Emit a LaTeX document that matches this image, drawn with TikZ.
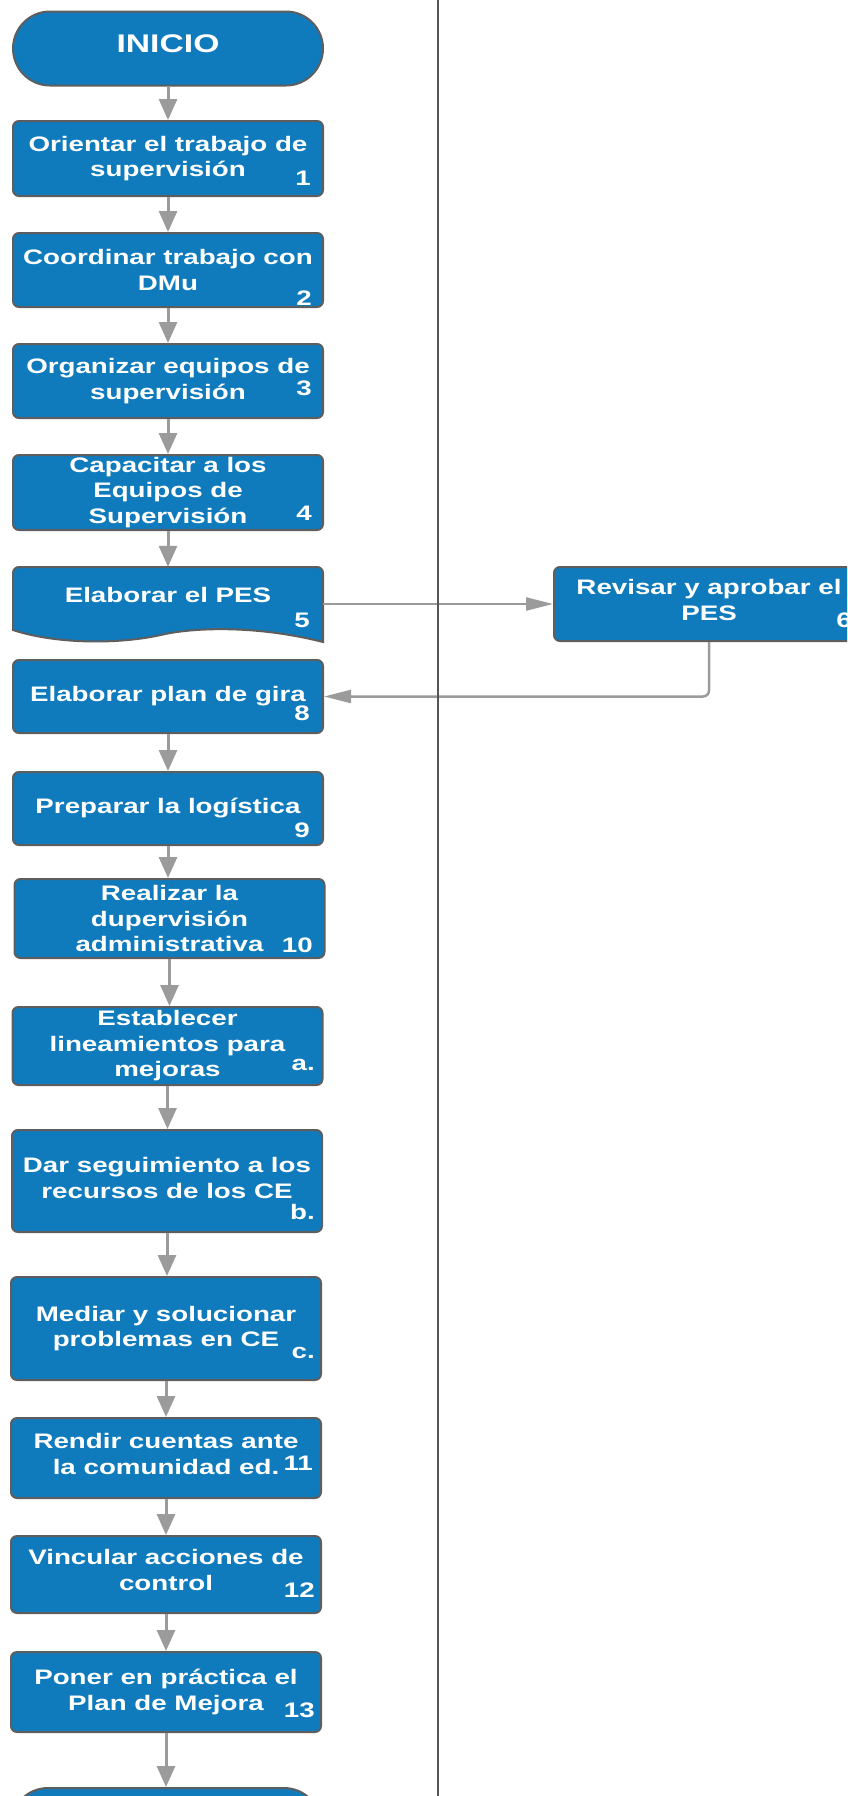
\documentclass[tikz,border=0pt]{standalone}
\usepackage{fontspec}
\newfontfamily\boxfont{Liberation Sans}[FakeStretch=1.32]
\usetikzlibrary{arrows.meta,shapes.misc}
\definecolor{boxblue}{HTML}{0F7BBD}
\definecolor{edgegray}{HTML}{5E5E5E}
\definecolor{arrowgray}{HTML}{9B9B9B}
\definecolor{lanegray}{HTML}{555555}
\newcommand{\padbot}[1]{\rule[-#1]{0pt}{#1}}
\tikzset{
  procbox/.style={draw=edgegray, line width=2pt, fill=boxblue, rounded corners=6pt,
    minimum width=310pt, inner sep=0pt, text=white, align=center,
    font=\boxfont\bfseries\fontsize{21pt}{25.5pt}\selectfont},
  docbox/.style={minimum width=310pt, inner sep=0pt, text=white, align=center,
    font=\boxfont\bfseries\fontsize{21pt}{25.5pt}\selectfont},
  docedge/.style={draw=edgegray, line width=2pt, fill=boxblue},
  termbox/.style={rounded rectangle, draw=edgegray, line width=2pt, fill=boxblue,
    minimum width=310pt, minimum height=74pt, inner sep=0pt, text=white,
    font=\boxfont\bfseries\fontsize{25.5pt}{30pt}\selectfont},
  numlbl/.style={anchor=base east, inner sep=0pt, text=white,
    font=\boxfont\bfseries\fontsize{21pt}{25pt}\selectfont},
  vflow/.style={draw=arrowgray, line width=3pt, -{Triangle[length=21pt,width=18pt]}},
  hflow/.style={draw=arrowgray, line width=2.5pt, -{Triangle[length=27pt,width=13pt]}},
  lane/.style={draw=lanegray, line width=2.5pt},
}
\begin{document}
\begin{tikzpicture}[x=1pt,y=-1pt]
\useasboundingbox (0,0) rectangle (847,1796);
\clip (0,0) rectangle (847,1796);

% terminals
\node[termbox, text depth=9.5pt] (ini) at (168,48.5) {INICIO};
\node[termbox] (fin) at (166,1825) {};

% process boxes
\node[procbox, minimum height=75pt] (n1) at (168,158.5) {Orientar el trabajo de\\supervisión};
\node[procbox, minimum height=74pt] (n2) at (168,270) {Coordinar trabajo con\\DMu};
\node[procbox, minimum height=74pt] (n3) at (168,381) {Organizar equipos de\\supervisión};
\node[procbox, minimum height=75pt] (n4) at (168,492.5) {Capacitar a los\\Equipos de\\Supervisión};

% document shape for step 5
\draw[docedge] (13,630) [rounded corners=6pt] -- (13,567) -- (323,567) [sharp corners] -- (323,642)
  .. controls (260,626) and (200,627) .. (165,634)
  .. controls (120,645) and (55,644) .. (13,630) -- cycle;
\node[docbox, minimum height=75pt, text depth=20pt] (n5) at (168,604.5) {Elaborar el PES};

\node[procbox, minimum height=74pt] (n6) at (709,604) {Revisar y aprobar el\\PES\padbot{8pt}};
\node[procbox, minimum height=73pt] (n8) at (168,696.5) {Elaborar plan de gira};
\node[procbox, minimum height=73pt] (n9) at (168,808.5) {Preparar la logística};
\node[procbox, minimum height=79pt] (n10) at (169.5,918.5) {Realizar la\\dupervisión\\administrativa};
\node[procbox, minimum height=78pt] (na) at (167.5,1046) {Establecer\\lineamientos para\\mejoras};
\node[procbox, minimum height=102pt] (nb) at (167,1181) {Dar seguimiento a los\\recursos de los CE\padbot{6pt}};
\node[procbox, minimum height=103pt] (nc) at (166,1328.5) {Mediar y solucionar\\problemas en CE};
\node[procbox, minimum height=80pt] (n11) at (166,1458) {Rendir cuentas ante\\la comunidad ed.\padbot{8pt}};
\node[procbox, minimum height=77pt] (n12) at (166,1574.5) {Vincular acciones de\\control\padbot{9pt}};
\node[procbox, minimum height=80pt] (n13) at (166,1692) {Poner en práctica el\\Plan de Mejora};

% step numbers
\node[numlbl] (k1) at (311,185) {1};
\node[numlbl] (k2) at (312,305) {2};
\node[numlbl] (k3) at (312,395) {3};
\node[numlbl] (k4) at (312,520) {4};
\node[numlbl] (k5) at (310,627) {5};
\node[numlbl] (k6) at (852,627) {6};
\node[numlbl] (k8) at (310,720) {8};
\node[numlbl] (k9) at (310,837) {9};
\node[numlbl] (k10) at (313,952) {10};
\node[numlbl] (ka) at (315,1070) {a.};
\node[numlbl] (kb) at (315,1219) {b.};
\node[numlbl] (kc) at (315,1358) {c.};
\node[numlbl] (k11) at (313,1470) {11};
\node[numlbl] (k12) at (315,1597) {12};
\node[numlbl] (k13) at (315,1717) {13};

% vertical flow
\draw[vflow] (ini.south) -- (ini.south |- n1.north);
\draw[vflow] (n1.south) -- (n1.south |- n2.north);
\draw[vflow] (n2.south) -- (n2.south |- n3.north);
\draw[vflow] (n3.south) -- (n3.south |- n4.north);
\draw[vflow] (n4.south) -- (n4.south |- n5.north);
\draw[vflow] (n8.south) -- (n8.south |- n9.north);
\draw[vflow] (n9.south) -- (n9.south |- n10.north);
\draw[vflow] (n10.south) -- (n10.south |- na.north);
\draw[vflow] (na.south) -- (na.south |- nb.north);
\draw[vflow] (nb.south) -- (nb.south |- nc.north);
\draw[vflow] (nc.south) -- (nc.south |- n11.north);
\draw[vflow] (n11.south) -- (n11.south |- n12.north);
\draw[vflow] (n12.south) -- (n12.south |- n13.north);
\draw[vflow] (n13.south) -- (n13.south |- fin.north);

% horizontal flow
\draw[hflow] (n5.east |- n6.west) -- (n6.west);
\draw[hflow, rounded corners=6pt] (n6.south) |- (n8.east);

% lane divider
\coordinate (laneTop) at (438,0);
\coordinate (laneBot) at (438,1796);
\draw[lane] (laneTop) -- (laneBot);
\end{tikzpicture}
\end{document}
